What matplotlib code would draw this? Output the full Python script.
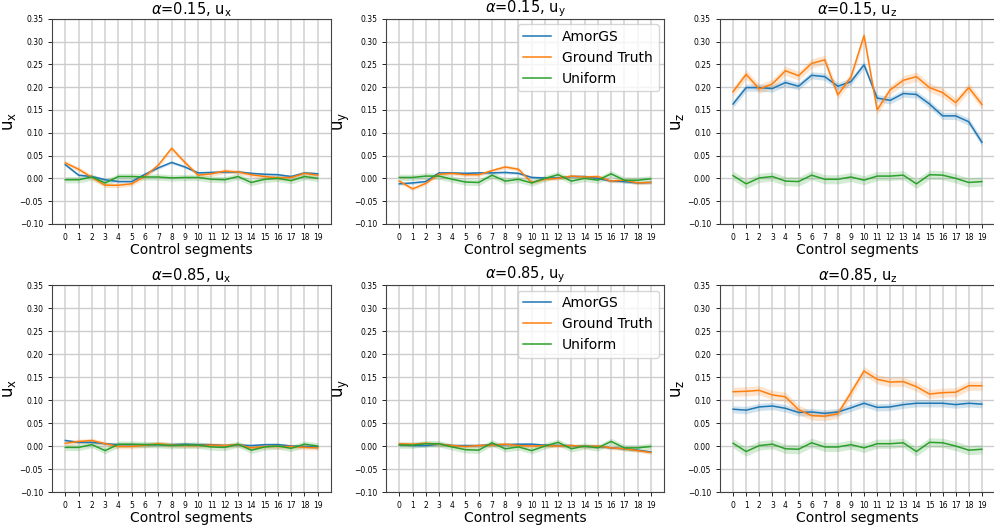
import numpy as np
import matplotlib
matplotlib.use('Agg')
import matplotlib.pyplot as plt

segments = np.arange(20)

# uniform baseline (same in both rows)
uni_x = [-0.003, -0.003, 0.003, -0.010, 0.004, 0.004, 0.003, 0.003, 0.001, 0.002,
         0.002, -0.002, -0.003, 0.004, -0.009, -0.002, 0.000, -0.005, 0.004, 0.000]
uni_y = [0.002, 0.002, 0.005, 0.005, -0.002, -0.008, -0.009, 0.007, -0.006, -0.002,
         -0.010, 0.000, 0.008, -0.006, 0.000, -0.004, 0.010, -0.004, -0.004, -0.001]
uni_z = [0.006, -0.012, 0.001, 0.004, -0.006, -0.007, 0.007, -0.002, -0.002, 0.003,
         -0.004, 0.005, 0.005, 0.007, -0.012, 0.008, 0.007, 0.000, -0.009, -0.007]

# alpha = 0.15
amor_x_15 = [0.030, 0.007, 0.004, -0.003, -0.007, -0.007, 0.009, 0.023, 0.035, 0.025,
             0.012, 0.013, 0.014, 0.014, 0.011, 0.009, 0.008, 0.004, 0.012, 0.010]
gt_x_15 = [0.034, 0.020, 0.002, -0.015, -0.015, -0.012, 0.005, 0.029, 0.066, 0.035,
           0.007, 0.010, 0.016, 0.014, 0.008, 0.004, 0.001, 0.002, 0.011, 0.007]
amor_y_15 = [-0.012, -0.010, -0.007, 0.012, 0.012, 0.011, 0.012, 0.012, 0.013, 0.011,
             0.002, 0.001, 0.001, 0.004, 0.004, 0.000, -0.006, -0.007, -0.010, -0.009]
gt_y_15 = [-0.006, -0.023, -0.011, 0.009, 0.011, 0.008, 0.008, 0.017, 0.025, 0.020,
           -0.009, -0.002, 0.000, 0.005, 0.003, 0.004, -0.006, -0.004, -0.010, -0.009]
amor_z_15 = [0.163, 0.199, 0.199, 0.197, 0.210, 0.202, 0.226, 0.223, 0.202, 0.212,
             0.249, 0.176, 0.171, 0.186, 0.184, 0.163, 0.137, 0.137, 0.124, 0.079]
gt_z_15 = [0.190, 0.228, 0.196, 0.207, 0.236, 0.225, 0.252, 0.260, 0.183, 0.222,
           0.313, 0.150, 0.194, 0.215, 0.223, 0.199, 0.188, 0.166, 0.199, 0.162]

# alpha = 0.85
amor_x_85 = [0.012, 0.008, 0.008, 0.005, 0.003, 0.003, 0.003, 0.003, 0.003, 0.004,
             0.003, 0.003, 0.001, 0.002, 0.001, 0.003, 0.003, 0.000, -0.001, -0.002]
gt_x_85 = [0.006, 0.010, 0.012, 0.005, -0.001, -0.001, 0.002, 0.005, 0.002, 0.001,
           0.001, 0.002, 0.001, 0.003, -0.004, -0.001, -0.001, -0.001, -0.003, -0.004]
amor_y_85 = [0.003, 0.001, 0.001, 0.004, 0.001, 0.001, 0.001, 0.003, 0.003, 0.004,
             0.004, 0.002, 0.001, 0.001, -0.001, -0.001, -0.004, -0.006, -0.009, -0.013]
gt_y_85 = [0.005, 0.004, 0.006, 0.004, 0.001, -0.001, 0.001, 0.002, 0.004, 0.001,
           0.000, 0.001, 0.000, 0.001, -0.001, 0.000, -0.004, -0.006, -0.010, -0.014]
amor_z_85 = [0.080, 0.078, 0.085, 0.087, 0.082, 0.073, 0.074, 0.071, 0.074, 0.083,
             0.093, 0.084, 0.085, 0.090, 0.093, 0.093, 0.093, 0.090, 0.093, 0.091]
gt_z_85 = [0.118, 0.119, 0.121, 0.111, 0.107, 0.079, 0.066, 0.065, 0.070, 0.116,
           0.163, 0.145, 0.139, 0.140, 0.129, 0.113, 0.116, 0.117, 0.131, 0.131]

# half widths of the shaded bands (amor, gt, uniform) per component
band_x = (0.003, 0.005, 0.007)
band_y = (0.003, 0.004, 0.007)
band_z = (0.008, 0.010, 0.010)

alphas = ['0.15', '0.85']
comps = ['x', 'y', 'z']
amor = {('0.15', 'x'): amor_x_15, ('0.15', 'y'): amor_y_15, ('0.15', 'z'): amor_z_15,
        ('0.85', 'x'): amor_x_85, ('0.85', 'y'): amor_y_85, ('0.85', 'z'): amor_z_85}
gt = {('0.15', 'x'): gt_x_15, ('0.15', 'y'): gt_y_15, ('0.15', 'z'): gt_z_15,
      ('0.85', 'x'): gt_x_85, ('0.85', 'y'): gt_y_85, ('0.85', 'z'): gt_z_85}
uni = {'x': uni_x, 'y': uni_y, 'z': uni_z}
bands = {'x': band_x, 'y': band_y, 'z': band_z}

fig = plt.figure(figsize=(9.95, 5.29), dpi=100)
lefts = [0.0523, 0.388, 0.7236]
widths = [0.2804, 0.2794, 0.2764]
bottoms = [0.5766, 0.0699]
heights = [0.3880, 0.3913]

for r, a in enumerate(alphas):
    for c, comp in enumerate(comps):
        ax = fig.add_axes([lefts[c], bottoms[r], widths[c], heights[r]])
        series = [('AmorGS', amor[(a, comp)], 'tab:blue'),
                  ('Ground Truth', gt[(a, comp)], 'tab:orange'),
                  ('Uniform', uni[comp], 'tab:green')]
        for (label, vals, col), bw in zip(series, bands[comp]):
            vals = np.array(vals)
            ax.plot(segments, vals, color=col, lw=1.1, label=label)
            ax.fill_between(segments, vals - bw, vals + bw, color=col, alpha=0.2, lw=0)
        ax.set_xlim(-1, 20)
        ax.set_ylim(-0.10, 0.35)
        ax.set_xticks(segments)
        ax.set_yticks(np.arange(-0.10, 0.351, 0.05))
        ax.tick_params(labelsize=5.5, length=3, width=0.6)
        ax.grid(True, axis='x', color='#dadada', lw=1.4)
        ax.grid(True, axis='y', color='#cccccc', lw=1.0)
        ax.set_axisbelow(True)
        for s in ax.spines.values():
            s.set_linewidth(0.8)
            s.set_color('#444444')
        ax.set_xlabel('Control segments', fontsize=10, labelpad=1)
        ax.set_ylabel(r'$\mathrm{u_%s}$' % comp, fontsize=12, labelpad=1)
        ax.set_title(r'$\alpha$=%s, $\mathrm{u_%s}$' % (a, comp), fontsize=10.5, pad=1)
        if comp == 'y':
            ax.legend(loc='upper right', fontsize=10, borderaxespad=0.4)

fig.savefig('out.png', dpi=100)
